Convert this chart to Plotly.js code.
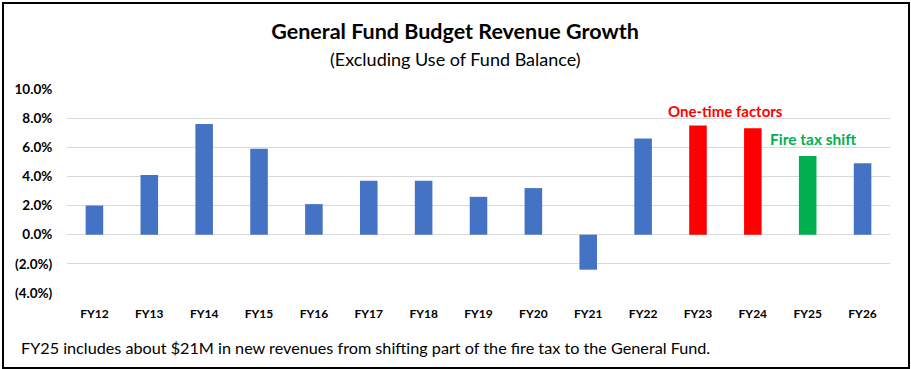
<!DOCTYPE html>
<html>
<head>
<meta charset="utf-8">
<script src="https://cdn.plot.ly/plotly-3.0.1.min.js"></script>
<style>
html,body{margin:0;padding:0;background:#fff;}
#wrap{position:relative;width:911px;height:369px;}
#chart{position:absolute;left:0;top:0;width:911px;height:369px;}
#frame{position:absolute;left:2px;top:2px;width:908px;height:367px;box-sizing:border-box;border:2px solid #000;pointer-events:none;}
</style>
</head>
<body>
<div id="wrap"><div id="chart"></div><div id="frame"></div></div>
<script>
const categories = ["FY12","FY13","FY14","FY15","FY16","FY17","FY18","FY19","FY20","FY21","FY22","FY23","FY24","FY25","FY26"];
const growthPct = [2.0, 4.1, 7.6, 5.9, 2.1, 3.7, 3.7, 2.6, 3.2, -2.4, 6.6, 7.5, 7.3, 5.4, 4.9];
const barGroup = ["base","base","base","base","base","base","base","base","base","base","base","oneTime","oneTime","fireTax","base"];
const groupColors = {base:"#4472C4", oneTime:"#FF0000", fireTax:"#00B050"};
const yTickVals = [-4, -2, 0, 2, 4, 6, 8, 10];
const yTickText = ["(4.0%)","(2.0%)","0.0%","2.0%","4.0%","6.0%","8.0%","10.0%"];
const titleText = "General Fund Budget Revenue Growth";
const subtitleText = "(Excluding Use of Fund Balance)";
const footnoteText = "FY25 includes about $21M in new revenues from shifting part of the fire tax to the General Fund.";
const noteOneTime = {text:"One-time factors", x:11.5, y:8.5};
const noteFireTax = {text:"Fire tax shift", x:13.1, y:6.6};

const font = "Lato, 'Open Sans', sans-serif";

const trace = {
  type: "bar",
  x: categories,
  y: growthPct,
  marker: {color: barGroup.map(g => groupColors[g])},
  width: 0.32,
  hoverinfo: "x+y"
};

const layout = {
  width: 911, height: 369,
  margin: {l: 67, r: 21, t: 89, b: 76},
  paper_bgcolor: "#fff", plot_bgcolor: "#fff",
  showlegend: false,
  font: {family: font, color: "#000"},
  title: {text: "<b>" + titleText + "</b>", x: 455/911, xanchor: "center", xref: "container",
          y: 1 - 31/369, yanchor: "middle", yref: "container",
          font: {family: font, size: 21.5, color: "#000"}},
  xaxis: {type: "category", showgrid: false, zeroline: false, showline: false,
          ticks: "outside", ticklen: 10, tickcolor: "rgba(0,0,0,0)",
          tickfont: {family: font, size: 12, color: "#000", weight: "bold"},
          range: [-0.5, 14.5]},
  yaxis: {range: [-4, 10], tickvals: yTickVals, ticktext: yTickText,
          showgrid: true, gridcolor: "#D9D9D9", gridwidth: 1, zeroline: false, showline: false,
          ticks: "outside", ticklen: 11, tickcolor: "rgba(0,0,0,0)",
          tickfont: {family: font, size: 13.5, color: "#000", weight: "bold"}},
  annotations: [
    {text: subtitleText, xref: "paper", yref: "paper", x: (455 - 67)/823, y: (293 - 59)/204,
     xanchor: "center", yanchor: "middle", showarrow: false,
     font: {family: font, size: 18, color: "#000"}},
    {text: footnoteText, xref: "paper", yref: "paper", x: (19 - 67)/823, y: (293 - 347)/204,
     xanchor: "left", yanchor: "middle", showarrow: false,
     font: {family: font, size: 16.2, color: "#000"}},
    {text: "<b>" + noteOneTime.text + "</b>", xref: "x", yref: "y", x: noteOneTime.x, y: noteOneTime.y,
     xanchor: "center", yanchor: "middle", showarrow: false,
     font: {family: font, size: 15, color: "#FF0000"}},
    {text: "<b>" + noteFireTax.text + "</b>", xref: "x", yref: "y", x: noteFireTax.x, y: noteFireTax.y,
     xanchor: "center", yanchor: "middle", showarrow: false,
     font: {family: font, size: 15.5, color: "#00B050"}}
  ]
};

Plotly.newPlot("chart", [trace], layout, {displayModeBar: false, staticPlot: true});
</script>
</body>
</html>
